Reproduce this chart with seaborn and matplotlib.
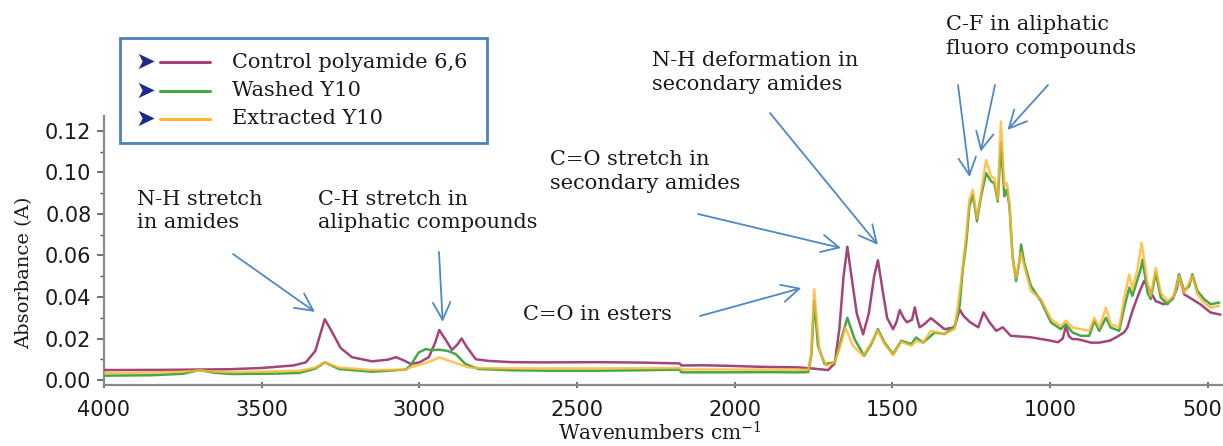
import matplotlib
matplotlib.use("Agg")
import matplotlib.pyplot as plt
import matplotlib.transforms as mtransforms
import seaborn as sns
from matplotlib.patches import Rectangle
from matplotlib.lines import Line2D

# ---------------- data ----------------
series_names = ["Control polyamide 6,6", "Washed Y10", "Extracted Y10"]

wn_control = [4000, 3800, 3600, 3500, 3400, 3360, 3330, 3300, 3280, 3250, 3214, 3150, 3100, 3074,
              3050, 3027, 3000, 2970, 2950, 2937, 2915, 2897, 2880, 2866, 2850, 2821, 2780, 2707,
              2600, 2432, 2300, 2175, 2169, 2100, 2011, 1950, 1900, 1799, 1750, 1704, 1683, 1668,
              1655, 1643, 1630, 1613, 1593, 1575, 1558, 1546, 1533, 1517, 1498, 1487, 1477, 1465,
              1454, 1438, 1429, 1422, 1414, 1398, 1378, 1355, 1335, 1303, 1287, 1275, 1255, 1228,
              1211, 1193, 1171, 1150, 1125, 1062, 1000, 975, 960, 950, 940, 929, 913, 870, 844,
              810, 786, 765, 755, 739, 718, 702, 686, 665, 639, 612, 598, 591, 575, 549, 524, 491,
              460]
abs_control = [0.0048, 0.0049, 0.0052, 0.0058, 0.0070, 0.0085, 0.0140, 0.0293, 0.0240, 0.0155,
               0.0110, 0.0090, 0.0098, 0.0110, 0.0095, 0.0077, 0.0085, 0.0110, 0.0180, 0.0241,
               0.0190, 0.0145, 0.0170, 0.0200, 0.0160, 0.0100, 0.0092, 0.0086, 0.0085, 0.0086,
               0.0084, 0.0080, 0.0070, 0.0071, 0.0068, 0.0065, 0.0063, 0.0061, 0.0055, 0.0048,
               0.0080, 0.0250, 0.0500, 0.0642, 0.0500, 0.0320, 0.0220, 0.0320, 0.0500, 0.0577,
               0.0450, 0.0300, 0.0245, 0.0280, 0.0337, 0.0300, 0.0278, 0.0290, 0.0350, 0.0300,
               0.0254, 0.0270, 0.0298, 0.0270, 0.0245, 0.0254, 0.0340, 0.0310, 0.0280, 0.0254,
               0.0326, 0.0280, 0.0237, 0.0254, 0.0213, 0.0206, 0.0190, 0.0182, 0.0200, 0.0260,
               0.0210, 0.0197, 0.0197, 0.0180, 0.0180, 0.0190, 0.0210, 0.0230, 0.0253, 0.0333,
               0.0420, 0.0477, 0.0437, 0.0380, 0.0365, 0.0389, 0.0440, 0.0504, 0.0413, 0.0389,
               0.0365, 0.0325, 0.0315]

wn_washed = [4000, 3850, 3750, 3698, 3650, 3593, 3450, 3381, 3330, 3300, 3255, 3150, 3044, 3028,
             3002, 2980, 2960, 2937, 2910, 2885, 2854, 2812, 2707, 2601, 2432, 2300, 2175, 2169,
             2011, 1900, 1799, 1767, 1757, 1748, 1736, 1715, 1683, 1662, 1643, 1620, 1590, 1567,
             1546, 1525, 1498, 1472, 1440, 1425, 1403, 1366, 1335, 1303, 1287, 1277, 1266, 1256,
             1245, 1232, 1219, 1203, 1187, 1177, 1166, 1156, 1145, 1137, 1129, 1119, 1108, 1097,
             1092, 1082, 1061, 1029, 997, 966, 950, 929, 903, 876, 860, 844, 823, 808, 781, 765,
             749, 739, 723, 713, 707, 691, 681, 665, 649, 628, 607, 591, 575, 559, 549, 533, 512,
             491, 464]
abs_washed = [0.0021, 0.0023, 0.0030, 0.0048, 0.0035, 0.0029, 0.0031, 0.0034, 0.0055, 0.0085,
              0.0053, 0.0040, 0.0050, 0.0070, 0.0133, 0.0149, 0.0144, 0.0146, 0.0140, 0.0125,
              0.0077, 0.0053, 0.0047, 0.0045, 0.0045, 0.0047, 0.0050, 0.0037, 0.0037, 0.0038,
              0.0037, 0.0038, 0.0120, 0.0380, 0.0165, 0.0077, 0.0085, 0.0197, 0.0300, 0.0197,
              0.0117, 0.0173, 0.0245, 0.0180, 0.0125, 0.0189, 0.0173, 0.0205, 0.0180, 0.0229,
              0.0221, 0.0260, 0.0357, 0.0533, 0.0660, 0.0837, 0.0893, 0.0765, 0.0885, 0.0997,
              0.0957, 0.0949, 0.0860, 0.1140, 0.0885, 0.0917, 0.0837, 0.0597, 0.0477, 0.0573,
              0.0653, 0.0565, 0.0453, 0.0380, 0.0277, 0.0245, 0.0269, 0.0229, 0.0213, 0.0213,
              0.0285, 0.0237, 0.0300, 0.0253, 0.0237, 0.0349, 0.0445, 0.0405, 0.0485, 0.0533,
              0.0580, 0.0420, 0.0390, 0.0517, 0.0397, 0.0365, 0.0405, 0.0509, 0.0429, 0.0453,
              0.0509, 0.0429, 0.0390, 0.0365, 0.0373]

wn_extracted = [4000, 3850, 3750, 3698, 3650, 3593, 3450, 3381, 3330, 3300, 3255, 3150, 3044, 3028,
                2980, 2960, 2937, 2910, 2885, 2843, 2800, 2707, 2432, 2300, 2175, 2169, 2011, 1900,
                1799, 1767, 1758, 1748, 1738, 1730, 1709, 1683, 1662, 1649, 1625, 1593, 1567, 1546,
                1525, 1498, 1472, 1440, 1425, 1403, 1378, 1356, 1335, 1303, 1287, 1277, 1266, 1256,
                1245, 1232, 1219, 1203, 1187, 1177, 1166, 1156, 1145, 1137, 1129, 1119, 1108, 1092,
                1082, 1061, 1029, 997, 966, 950, 929, 903, 876, 860, 844, 823, 808, 781, 765, 749,
                739, 723, 710, 691, 681, 665, 649, 628, 607, 591, 575, 549, 533, 512, 491, 464]
abs_extracted = [0.0034, 0.0036, 0.0040, 0.0046, 0.0040, 0.0038, 0.0042, 0.0045, 0.0060, 0.0085,
                 0.0060, 0.0048, 0.0050, 0.0061, 0.0082, 0.0093, 0.0109, 0.0095, 0.0082, 0.0061,
                 0.0057, 0.0056, 0.0056, 0.0057, 0.0058, 0.0051, 0.0050, 0.0050, 0.0050, 0.0049,
                 0.0120, 0.0437, 0.0250, 0.0133, 0.0069, 0.0085, 0.0180, 0.0253, 0.0165, 0.0117,
                 0.0180, 0.0237, 0.0173, 0.0120, 0.0184, 0.0165, 0.0189, 0.0180, 0.0237, 0.0229,
                 0.0221, 0.0245, 0.0420, 0.0550, 0.0700, 0.0870, 0.0917, 0.0780, 0.0900, 0.1060,
                 0.0980, 0.0973, 0.0869, 0.1245, 0.0933, 0.0949, 0.0853, 0.0581, 0.0493, 0.0613,
                 0.0549, 0.0429, 0.0390, 0.0293, 0.0260, 0.0285, 0.0253, 0.0245, 0.0237, 0.0300,
                 0.0253, 0.0349, 0.0269, 0.0253, 0.0397, 0.0509, 0.0437, 0.0533, 0.0660, 0.0470,
                 0.0405, 0.0540, 0.0420, 0.0380, 0.0405, 0.0500, 0.0420, 0.0500, 0.0413, 0.0373,
                 0.0349, 0.0357]

x_ticks = [4000, 3500, 3000, 2500, 2000, 1500, 1000, 500]
y_ticks = [0.00, 0.02, 0.04, 0.06, 0.08, 0.10, 0.12]

annotations = [
    ("N-H stretch\nin amides", 137, 190, [(3331, 0.0328, 233, 254)]),
    ("C-H stretch in\naliphatic compounds", 318, 190, [(2926, 0.0280, 439, 252)]),
    ("C=O stretch in\nsecondary amides", 550, 150, [(1663, 0.0636, 698, 214)]),
    ("N-H deformation in\nsecondary amides", 652, 51, [(1546, 0.0651, 770, 113)]),
    ("C=O in esters", 523, 305, [(1789, 0.0443, 700, 316)]),
    ("C-F in aliphatic\nfluoro compounds", 946, 15,
     [(1255, 0.0978, 958, 85), (1220, 0.1100, 995, 85), (1135, 0.1205, 1048, 85)]),
]

# ---------------- styling ----------------
sns.set_theme(style="white")
plt.rcParams["font.family"] = ["DejaVu Sans"]
plt.rcParams["mathtext.fontset"] = "dejavuserif"

W, H = 1223, 446
fig = plt.figure(figsize=(W / 100, H / 100), dpi=100)
fx = lambda px: px / W
fy = lambda py: 1 - py / H

ax = fig.add_axes([fx(104), fy(385), fx(1222) - fx(104), fy(116) - fy(385)])

colors = ["#a2467a", "#45a845", "#ffb52e"]
sns.lineplot(x=wn_control, y=abs_control, ax=ax, color=colors[0], lw=1.8,
             sort=False, estimator=None, zorder=3)
sns.lineplot(x=wn_washed, y=abs_washed, ax=ax, color=colors[1], lw=1.8,
             sort=False, estimator=None, zorder=4)
sns.lineplot(x=wn_extracted, y=abs_extracted, ax=ax, color=colors[2], lw=1.8, alpha=0.8,
             sort=False, estimator=None, zorder=5)

ax.set_xlim(4000, 455)
ax.set_ylim(-0.0024, 0.1272)
ax.set_xticks(x_ticks)
ax.set_xticklabels([str(t) for t in x_ticks])
ax.set_yticks(y_ticks)
ax.set_yticklabels([f"{t:.2f}" for t in y_ticks])
ax.set_yticks([0.01, 0.03, 0.05, 0.07, 0.09, 0.11], minor=True)
ax.set_xlabel("")
ax.set_ylabel("")
for s in ["top", "right"]:
    ax.spines[s].set_visible(False)
for s in ["left", "bottom"]:
    ax.spines[s].set_color("#8a8a8a")
    ax.spines[s].set_linewidth(1.6)
ax.tick_params(axis="x", which="major", direction="inout", length=5, width=1.2,
               color="#555555", labelsize=15, labelcolor="#1a1a1a", pad=8, bottom=True)
ax.tick_params(axis="y", which="major", direction="out", length=5, width=1.2,
               color="#555555", labelsize=15, labelcolor="#1a1a1a", pad=4, left=True)
ax.tick_params(axis="y", which="minor", direction="out", length=3, width=1.0,
               color="#555555", left=True)

# keep the last x tick label ("500") inside the figure, right edge near the border
last = ax.get_xticklabels()[-1]
last.set_horizontalalignment("right")
last.set_transform(last.get_transform() +
                   mtransforms.ScaledTranslation(0.14, 0, fig.dpi_scale_trans))

fig.text(fx(660), fy(433), "Wavenumbers cm$^{-1}$", ha="center", va="center",
         fontsize=14.5, family="DejaVu Serif", color="#1a1a1a")
fig.text(fx(24), fy(273), "Absorbance (A)", ha="center", va="center", rotation=90,
         fontsize=14, family="DejaVu Serif", color="#1a1a1a")

# annotations
arrow_color = "#4f88c6"
for label, tx, ty, arrows in annotations:
    fig.text(fx(tx), fy(ty), label, ha="left", va="top", fontsize=15,
             family="DejaVu Serif", color="#1a1a1a", linespacing=1.3)
    for wn, ab, sx, sy in arrows:
        ax.annotate("", xy=(wn, ab), xycoords="data",
                    xytext=(fx(sx), fy(sy)), textcoords="figure fraction",
                    arrowprops=dict(arrowstyle="->,head_length=0.7,head_width=0.35",
                                    color=arrow_color, lw=1.3, mutation_scale=18,
                                    shrinkA=0, shrinkB=0),
                    annotation_clip=False)

# legend box
fig.add_artist(Rectangle((fx(120), fy(143)), fx(487) - fx(120), fy(38) - fy(143),
                         transform=fig.transFigure, facecolor="white",
                         edgecolor="#4f7fbf", lw=2, zorder=10))
rows_y = [62, 91, 119]
for name, col, ry in zip(series_names, colors, rows_y):
    fig.text(fx(135), fy(ry), "\u27a4", ha="left", va="center", fontsize=17,
             color="#1c2a8c", family="DejaVu Sans", zorder=11)
    fig.add_artist(Line2D([fx(160), fx(210)], [fy(ry), fy(ry)], transform=fig.transFigure,
                          color=col, lw=2.2, zorder=11))
    fig.text(fx(232), fy(ry), name, ha="left", va="center", fontsize=15,
             family="DejaVu Serif", color="#1a1a1a", zorder=11)

fig.savefig("out.png", dpi=100, facecolor="white")
